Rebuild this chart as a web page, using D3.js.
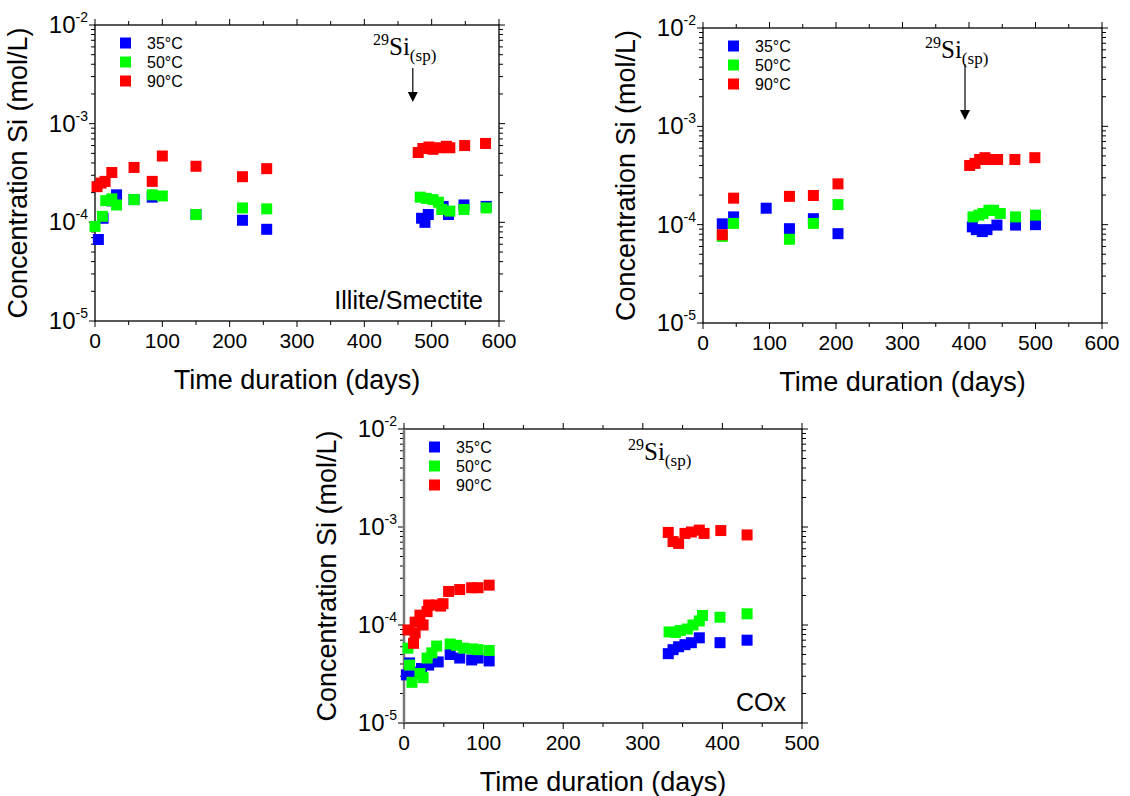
<!DOCTYPE html>
<html>
<head>
<meta charset="utf-8">
<script src="https://cdn.jsdelivr.net/npm/d3@7"></script>
<style>
  body { margin: 0; background: #fff; }
  svg { display: block; }
  text { font-family: "Liberation Sans", Arial, sans-serif; fill: #000; }
</style>
</head>
<body>
<div id="chart"></div>
<script>
// ---- data: [days, concentration mol/L] ----
const is35 = [[5, 6.7e-5], [12, 1.1e-4], [25, 1.65e-4], [32, 1.9e-4], [58, 1.7e-4], [85, 1.8e-4],
  [150, 1.2e-4], [219, 1.05e-4], [255, 8.5e-5],
  [485, 1.1e-4], [490, 1.0e-4], [495, 1.2e-4], [517, 1.45e-4], [525, 1.2e-4], [548, 1.5e-4], [581, 1.45e-4]];
const is50 = [[0, 9.1e-5], [11, 1.15e-4], [16, 1.66e-4], [25, 1.73e-4], [32, 1.5e-4], [58, 1.7e-4],
  [85, 1.9e-4], [100, 1.85e-4], [150, 1.2e-4], [219, 1.4e-4], [255, 1.37e-4],
  [483, 1.8e-4], [492, 1.75e-4], [502, 1.7e-4], [510, 1.6e-4], [515, 1.35e-4], [527, 1.3e-4], [548, 1.35e-4], [581, 1.4e-4]];
const is90 = [[3, 2.3e-4], [9, 2.5e-4], [15, 2.6e-4], [25, 3.2e-4], [58, 3.6e-4], [85, 2.6e-4],
  [100, 4.7e-4], [150, 3.7e-4], [219, 2.9e-4], [255, 3.5e-4],
  [480, 5.1e-4], [487, 5.6e-4], [496, 5.8e-4], [502, 5.5e-4], [512, 5.7e-4], [522, 5.9e-4], [527, 5.7e-4], [549, 6.0e-4], [580, 6.3e-4]];

const p2_35 = [[29, 1.02e-4], [46, 1.2e-4], [95, 1.47e-4], [130, 9.1e-5], [166, 1.15e-4], [203, 8.1e-5],
  [405, 9.5e-5], [411, 8.9e-5], [420, 8.5e-5], [427, 8.9e-5], [442, 9.9e-5], [470, 9.9e-5], [500, 1.0e-4]];
const p2_50 = [[29, 7.6e-5], [46, 1.03e-4], [130, 7.1e-5], [166, 1.03e-4], [203, 1.6e-4],
  [406, 1.2e-4], [415, 1.25e-4], [421, 1.3e-4], [430, 1.4e-4], [437, 1.4e-4], [447, 1.3e-4], [470, 1.2e-4], [500, 1.25e-4]];
const p2_90 = [[29, 7.9e-5], [46, 1.86e-4], [130, 1.94e-4], [166, 1.98e-4], [203, 2.6e-4],
  [401, 4.0e-4], [409, 4.2e-4], [416, 4.6e-4], [424, 4.8e-4], [431, 4.6e-4], [443, 4.6e-4], [469, 4.6e-4], [499, 4.8e-4]];

const cox35 = [[3, 3.1e-5], [7, 4.1e-5], [14, 3.3e-5], [22, 3.6e-5], [31, 3.9e-5], [43, 4.2e-5], [58, 5.0e-5],
  [70, 4.6e-5], [85, 4.4e-5], [93, 4.6e-5], [107, 4.3e-5],
  [332, 5.1e-5], [338, 5.6e-5], [345, 6.0e-5], [353, 6.3e-5], [361, 6.6e-5], [371, 7.4e-5], [397, 6.6e-5], [431, 7.0e-5]];
const cox50 = [[5, 5.8e-5], [7, 3.9e-5], [10, 2.6e-5], [20, 3.2e-5], [24, 2.9e-5], [29, 4.6e-5], [35, 5.2e-5],
  [41, 6.1e-5], [58, 6.4e-5], [66, 6.2e-5], [75, 5.8e-5], [86, 5.7e-5], [93, 5.6e-5], [107, 5.5e-5],
  [333, 8.5e-5], [341, 8.4e-5], [347, 8.8e-5], [356, 9.1e-5], [363, 1.0e-4], [371, 1.1e-4], [375, 1.25e-4], [397, 1.2e-4], [431, 1.3e-4]];
const cox90 = [[5, 8.9e-5], [12, 6.5e-5], [14, 8.3e-5], [14, 1.07e-4], [20, 1.26e-4], [24, 1.0e-4], [29, 1.37e-4],
  [31, 1.6e-4], [41, 1.6e-4], [46, 1.56e-4], [49, 1.65e-4], [56, 2.2e-4], [70, 2.3e-4], [85, 2.4e-4], [93, 2.4e-4], [107, 2.55e-4],
  [332, 8.8e-4], [338, 7.1e-4], [345, 6.8e-4], [353, 8.6e-4], [361, 8.9e-4], [371, 9.3e-4], [377, 8.6e-4], [398, 9.2e-4], [431, 8.3e-4]];

const seriesNames = ["35°C", "50°C", "90°C"];
const seriesColors = ["#0000ff", "#00ff00", "#ff0000"];
const decadeTicks = [1e-5, 1e-4, 1e-3, 1e-2];

const svg = d3.select("#chart").append("svg").attr("width", 1130).attr("height", 796);

function drawPanel(cfg) {
  const { left, top, width, height, xMax, series, label, arrow } = cfg;
  const g = svg.append("g").attr("transform", `translate(${left},${top})`);

  const x = d3.scaleLinear().domain([0, xMax]).range([0, width]);
  const y = d3.scaleLog().domain([1e-5, 1e-2]).range([height, 0]);

  // minor log ticks
  const minor = [];
  [1e-5, 1e-4, 1e-3].forEach((d) => {
    for (let k = 2; k <= 9; k++) minor.push(d * k);
  });
  const xMajor = d3.range(0, xMax + 1, 100);
  const xMinor = d3.range(50, xMax, 100);

  // left / right axes
  [[0, -1], [width, 1]].forEach(([ax, dir]) => {
    g.append("g").selectAll("line.maj").data(decadeTicks).join("line")
      .attr("x1", ax).attr("x2", ax + dir * 6)
      .attr("y1", (d) => y(d)).attr("y2", (d) => y(d))
      .attr("stroke", "#000").attr("stroke-width", 1);
    g.append("g").selectAll("line.min").data(minor).join("line")
      .attr("x1", ax).attr("x2", ax + dir * 4)
      .attr("y1", (d) => y(d)).attr("y2", (d) => y(d))
      .attr("stroke", "#000").attr("stroke-width", 1);
  });
  // bottom / top axes
  [[height, 1], [0, -1]].forEach(([ay, dir]) => {
    g.append("g").selectAll("line.maj").data(xMajor).join("line")
      .attr("x1", (d) => x(d)).attr("x2", (d) => x(d))
      .attr("y1", ay).attr("y2", ay + dir * 6)
      .attr("stroke", "#000").attr("stroke-width", 1);
    g.append("g").selectAll("line.min").data(xMinor).join("line")
      .attr("x1", (d) => x(d)).attr("x2", (d) => x(d))
      .attr("y1", ay).attr("y2", ay + dir * 4)
      .attr("stroke", "#000").attr("stroke-width", 1);
  });

  g.append("rect").attr("width", width).attr("height", height)
    .attr("fill", "none").attr("stroke", "#000").attr("stroke-width", 1.3);
  if (cfg.greyLeft) {
    g.append("line").attr("x1", 0).attr("x2", 0).attr("y1", 0).attr("y2", height)
      .attr("stroke", "#777").attr("stroke-width", 2.5);
  }

  // tick labels
  const yl = g.append("g").selectAll("text").data(decadeTicks).join("text")
    .attr("x", -7).attr("y", (d) => y(d) + 8)
    .attr("text-anchor", "end").style("font-size", "24px");
  yl.append("tspan").text("10");
  yl.append("tspan").attr("dy", -11).style("font-size", "14px")
    .text((d) => Math.round(Math.log10(d)));

  g.append("g").selectAll("text").data(xMajor).join("text")
    .attr("x", (d) => x(d)).attr("y", height + 27)
    .attr("text-anchor", "middle").style("font-size", "21px")
    .text((d) => d);

  // axis titles
  g.append("text")
    .attr("transform", `translate(${-68},${height / 2}) rotate(-90)`)
    .attr("text-anchor", "middle").style("font-size", "27px")
    .text("Concentration Si (mol/L)");
  g.append("text")
    .attr("x", width / 2).attr("y", height + 68)
    .attr("text-anchor", "middle").style("font-size", "27px")
    .text("Time duration (days)");

  // data
  series.forEach((data, i) => {
    g.append("g").selectAll("rect").data(data).join("rect")
      .attr("x", (d) => x(d[0]) - 5.5).attr("y", (d) => y(d[1]) - 5.5)
      .attr("width", 11).attr("height", 11)
      .attr("fill", seriesColors[i]);
  });

  // legend
  const lg = g.append("g").attr("transform", "translate(25,18)");
  seriesNames.forEach((name, i) => {
    lg.append("rect").attr("x", 0).attr("y", i * 19 - 5.5)
      .attr("width", 11).attr("height", 11).attr("fill", seriesColors[i]);
    lg.append("text").attr("x", 27).attr("y", i * 19 + 6)
      .style("font-size", "16px").text(name);
  });

  // 29Si(sp) annotation
  const t = g.append("text").attr("x", cfg.siX).attr("y", cfg.siY)
    .style("font-family", "'Liberation Serif', 'Times New Roman', serif");
  t.append("tspan").attr("dy", -10).style("font-size", "16px").text("29");
  t.append("tspan").attr("dy", 10).style("font-size", "25px").text("Si");
  t.append("tspan").attr("dy", 6).style("font-size", "17px").text("(sp)");

  if (arrow) {
    const ax = x(arrow.day);
    g.append("line").attr("x1", ax).attr("x2", ax)
      .attr("y1", arrow.y0).attr("y2", arrow.y1 - 8)
      .attr("stroke", "#000").attr("stroke-width", 1.2);
    g.append("path")
      .attr("d", `M${ax - 5},${arrow.y1 - 10}L${ax + 5},${arrow.y1 - 10}L${ax},${arrow.y1}Z`)
      .attr("fill", "#000");
  }

  g.append("text").attr("x", width - 16).attr("y", height - 12)
    .attr("text-anchor", "end").style("font-size", "25px").text(label);
}

drawPanel({
  left: 95, top: 25, width: 404, height: 296, xMax: 600,
  series: [is35, is50, is90], label: "Illite/Smectite",
  siX: 278, siY: 30, arrow: { day: 472, y0: 43, y1: 77 }
});
drawPanel({
  left: 703, top: 28, width: 399, height: 295, xMax: 600,
  series: [p2_35, p2_50, p2_90], label: "",
  siX: 222, siY: 30, arrow: { day: 394, y0: 36, y1: 92 }
});
drawPanel({
  left: 404, top: 429, width: 398, height: 294, xMax: 500,
  series: [cox35, cox50, cox90], label: "COx",
  siX: 224, siY: 31, arrow: null, greyLeft: true
});
</script>
</body>
</html>
